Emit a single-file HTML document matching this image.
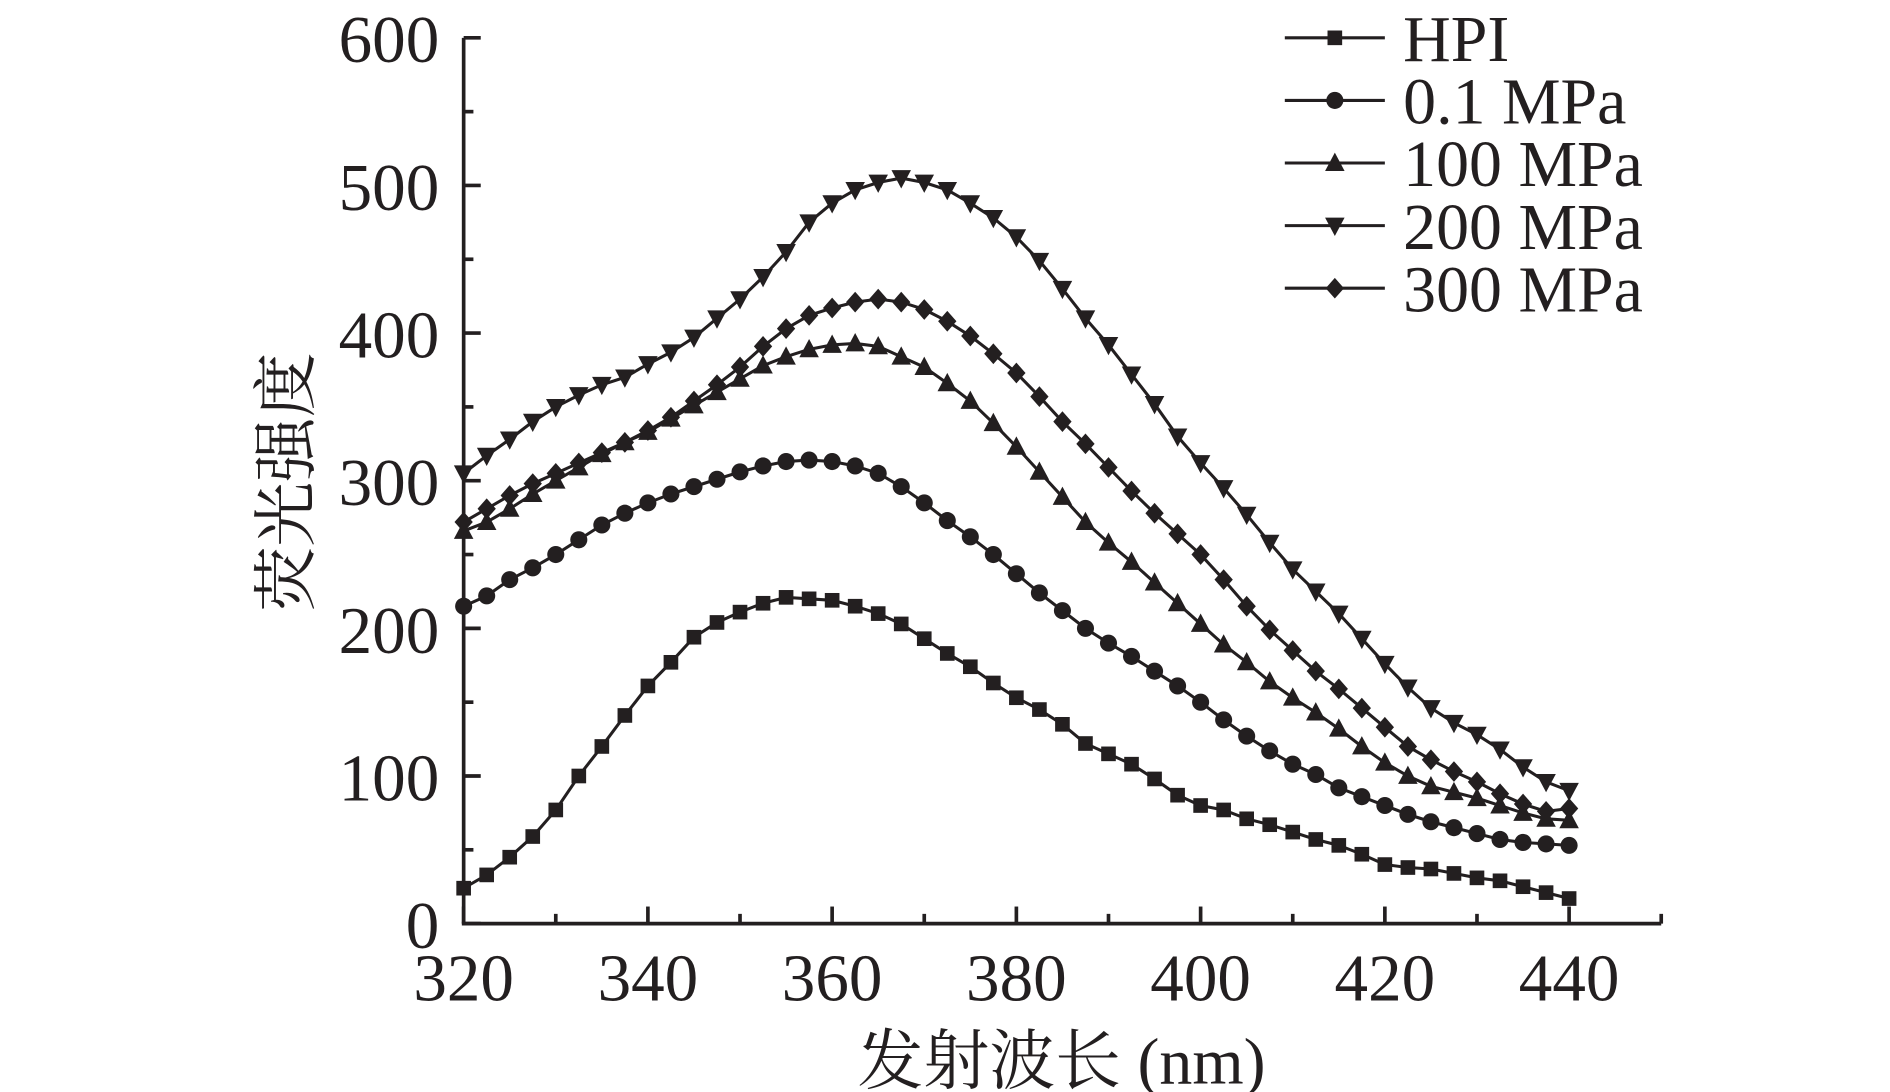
<!DOCTYPE html>
<html><head><meta charset="utf-8"><style>
html,body{margin:0;padding:0;background:#fff}
svg{display:block}
text{font-family:"Liberation Serif","Noto Serif CJK SC",serif;fill:#231f20}
</style></head><body>
<svg id="chart" width="1890" height="1092" viewBox="0 0 1549 895" preserveAspectRatio="none" xmlns="http://www.w3.org/2000/svg"></svg>
<script>
const xs = [];
for (let i = 0; i <= 48; i++) xs.push(320 + i * 2.5);
const hpi = [24,33,45,59,77,100,120,141,161,177,194,204,211,217,221,220,219,215,210,203,193,183,174,163,153,145,135,122,115,108,98,87,80,77,71,67,62,57,53,47,40,38,37,34,31,29,25,21,17];
const mpa01 = [215,222,233,241,250,260,270,278,285,291,296,301,306,310,313,314,313,310,305,296,285,273,262,250,237,224,212,200,190,181,171,161,150,138,127,117,108,101,92,86,80,74,69,65,61,57,55,54,53];
const mpa100 = [266,272,281,291,300,309,318,326,333,342,351,360,369,378,384,389,392,393,391,384,377,366,354,339,323,306,289,272,258,245,231,217,203,189,177,164,153,143,132,120,109,100,93,89,85,80,75,71,70];
const mpa200 = [305,317,328,340,350,358,365,370,379,387,397,410,423,438,455,475,488,497,502,505,502,497,488,478,465,449,430,410,392,372,352,330,312,295,277,258,240,225,210,193,176,160,146,136,128,118,106,96,90];
const mpa300 = [272,281,290,298,305,312,319,326,334,343,354,365,377,391,403,412,417,421,423,421,416,408,398,386,373,357,340,325,309,293,278,264,250,233,215,199,185,171,159,146,133,120,111,103,96,88,81,76,78];
const seriesNames = ["HPI","0.1 MPa","100 MPa","200 MPa","300 MPa"];
const seriesData = [hpi, mpa01, mpa100, mpa200, mpa300];
const markers = ["square","circle","up","down","diamond"];
const xTicks = [320,340,360,380,400,420,440];
const yTicks = [0,100,200,300,400,500,600];

const NS = "http://www.w3.org/2000/svg";
const svg = document.getElementById("chart");
const X = v => 380 + (v - 320) * (906 / 120);
const Y = v => 757 - v * (726 / 600);
function el(tag, attrs, parent) {
  const e = document.createElementNS(NS, tag);
  for (const k in attrs) e.setAttribute(k, attrs[k]);
  (parent || svg).appendChild(e);
  return e;
}
const ink = "#231f20";
const ax = el("line", {x1: X(320), y1: Y(0), x2: X(320), y2: Y(600), stroke: ink, "stroke-width": 3});


const axx = el("line", {x1: X(320) - 1.5, y1: Y(0), x2: X(450), y2: Y(0), stroke: ink, "stroke-width": 3});


for (let v = 0; v <= 600; v += 50) {
  const major = v % 100 === 0;
  const t = el("line", {x1: X(320), y1: Y(v), x2: X(320) + (major ? 14 : 8), y2: Y(v), stroke: ink, "stroke-width": 3});
  
  
}
for (let v = 320; v <= 450; v += 10) {
  const major = v % 20 === 0;
  const t = el("line", {x1: X(v), y1: Y(0), x2: X(v), y2: Y(0) - (major ? 14 : 8), stroke: ink, "stroke-width": 3});
  
  
}
yTicks.forEach(v => {
  const t = el("text", {x: 360, y: Y(v) + 20, "text-anchor": "end", "font-size": 55});
  t.textContent = v;
  
  
});
xTicks.forEach(v => {
  const t = el("text", {x: X(v), y: 820, "text-anchor": "middle", "font-size": 55});
  t.textContent = v;
  
  
});
const xt = el("text", {x: 870, y: 888, "text-anchor": "middle", "font-size": 54});
xt.textContent = "发射波长 (nm)";


const yt = el("text", {x: 0, y: 0, "text-anchor": "middle", "font-size": 53, transform: "translate(253,395) rotate(-90)"});
yt.textContent = "荧光强度";



function marker(type, cx, cy, parent) {
  let m;
  if (type === "square") m = el("rect", {x: cx - 6, y: cy - 6, width: 12, height: 12, fill: ink}, parent);
  else if (type === "circle") m = el("circle", {cx, cy, r: 7, fill: ink}, parent);
  else if (type === "up") m = el("polygon", {points: `${cx},${cy - 8.5} ${cx - 8},${cy + 6.5} ${cx + 8},${cy + 6.5}`, fill: ink}, parent);
  else if (type === "down") m = el("polygon", {points: `${cx},${cy + 8.5} ${cx - 8},${cy - 6.5} ${cx + 8},${cy - 6.5}`, fill: ink}, parent);
  else m = el("polygon", {points: `${cx},${cy - 8.5} ${cx + 7.5},${cy} ${cx},${cy + 8.5} ${cx - 7.5},${cy}`, fill: ink}, parent);
  return m;
}
seriesData.forEach((data, si) => {
  const g = el("g", {});
  
  
  const pts = data.map((v, i) => X(xs[i]) + "," + Y(v)).join(" ");
  const pl = el("polyline", {points: pts, fill: "none", stroke: ink, "stroke-width": 2.5}, g);
  
  
  data.forEach((v, i) => {
    const m = marker(markers[si], X(xs[i]), Y(v), g);
    
    
  });
  const ly = 31 + si * 51.3;
  const lg = el("g", {});
  
  
  el("line", {x1: 1053, y1: ly, x2: 1135, y2: ly, stroke: ink, "stroke-width": 2.5}, lg);
  marker(markers[si], 1094, ly, lg);
  const lt = el("text", {x: 1150, y: ly + 19, "font-size": 54}, lg);
  lt.textContent = seriesNames[si];
});
</script>
</body></html>
